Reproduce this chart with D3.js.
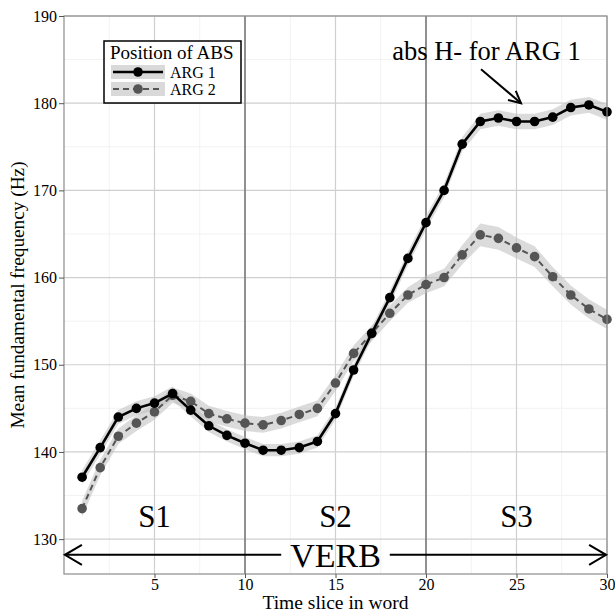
<!DOCTYPE html>
<html>
<head>
<meta charset="utf-8">
<script src="https://cdn.jsdelivr.net/npm/d3@7"></script>
<style>
  html, body { margin: 0; padding: 0; background: #fff; }
  svg { display: block; }
  text { font-family: "Liberation Serif", "DejaVu Serif", serif; fill: #000; }
</style>
</head>
<body>
<svg id="chart" width="615" height="613"></svg>
<script>
/* F0 contour per time slice – ARG 1 vs ARG 2 */

const slices = [1, 2, 3, 4, 5, 6, 7, 8, 9, 10, 11, 12, 13, 14, 15,
  16, 17, 18, 19, 20, 21, 22, 23, 24, 25, 26, 27, 28, 29, 30];

const arg1 = [137.1, 140.5, 144.0, 145.0, 145.6, 146.7, 144.8, 143.0, 141.9, 141.0,
  140.2, 140.2, 140.5, 141.2, 144.4, 149.4, 153.6, 157.7, 162.2, 166.3,
  170.0, 175.3, 177.9, 178.3, 177.9, 177.9, 178.4, 179.5, 179.8, 179.0];
const arg1Ci = [0.8, 0.8, 0.8, 0.8, 0.8, 0.8, 0.7, 0.7, 0.7, 0.7,
  0.7, 0.7, 0.7, 0.7, 0.7, 0.7, 0.7, 0.8, 0.8, 0.8,
  0.8, 0.8, 0.9, 0.9, 0.9, 0.9, 0.9, 0.9, 0.9, 0.9];

const arg2 = [133.5, 138.2, 141.8, 143.3, 144.6, 146.5, 145.8, 144.4, 143.8, 143.3,
  143.1, 143.6, 144.3, 145.0, 147.9, 151.3, 153.6, 155.9, 158.0, 159.2,
  160.0, 162.6, 164.9, 164.5, 163.4, 162.4, 160.1, 158.0, 156.4, 155.2];
const arg2Ci = [0.9, 0.9, 0.9, 0.9, 0.9, 0.9, 0.9, 0.9, 0.9, 0.9,
  0.9, 0.9, 0.9, 0.9, 0.9, 0.9, 0.9, 0.9, 0.9, 1.0,
  1.0, 1.1, 1.3, 1.3, 1.2, 1.2, 1.1, 1.1, 1.1, 1.1];

const xTicks = [5, 10, 15, 20, 25, 30];
const yTicks = [130, 140, 150, 160, 170, 180, 190];
const syllableBounds = [10, 20];
const syllables = ["S1", "S2", "S3"];
const syllableX = [5, 15, 25];

const margin = { top: 16, right: 8, bottom: 39, left: 64 };
const W = 615, H = 613;
const innerW = W - margin.left - margin.right;
const innerH = H - margin.top - margin.bottom;

const x = d3.scaleLinear().domain([0, 30]).range([0, innerW]);
const y = d3.scaleLinear().domain([126, 190]).range([innerH, 0]);

const svg = d3.select("#chart");
const g = svg.append("g").attr("transform", `translate(${margin.left},${margin.top})`);

/* ---------- grid ---------- */
const minorX = d3.range(2.5, 30, 5);
const minorY = d3.range(135, 190, 10);
g.append("g").selectAll("line").data(minorX).join("line")
  .attr("x1", d => x(d)).attr("x2", d => x(d)).attr("y1", 0).attr("y2", innerH)
  .attr("stroke", "#f2f2f2").attr("stroke-width", 1);
g.append("g").selectAll("line").data(minorY).join("line")
  .attr("y1", d => y(d)).attr("y2", d => y(d)).attr("x1", 0).attr("x2", innerW)
  .attr("stroke", "#f2f2f2").attr("stroke-width", 1);
g.append("g").selectAll("line").data(xTicks).join("line")
  .attr("x1", d => x(d)).attr("x2", d => x(d)).attr("y1", 0).attr("y2", innerH)
  .attr("stroke", "#cfcfcf").attr("stroke-width", 1.2);
g.append("g").selectAll("line").data(yTicks).join("line")
  .attr("y1", d => y(d)).attr("y2", d => y(d)).attr("x1", 0).attr("x2", innerW)
  .attr("stroke", "#cfcfcf").attr("stroke-width", 1.2);

// syllable boundaries
g.append("g").selectAll("line").data(syllableBounds).join("line")
  .attr("x1", d => x(d)).attr("x2", d => x(d)).attr("y1", 0).attr("y2", innerH)
  .attr("stroke", "#6e6e6e").attr("stroke-width", 1.4);

/* ---------- series ---------- */
const series = [
  { key: "ARG 1", vals: arg1, ci: arg1Ci, color: "#000", dash: null, width: 2.6 },
  { key: "ARG 2", vals: arg2, ci: arg2Ci, color: "#555", dash: "6,4", width: 2 },
];

const area = d3.area()
  .x((d, i) => x(slices[i]))
  .y0(d => y(d[0] - d[1]))
  .y1(d => y(d[0] + d[1]));
const line = d3.line().x((d, i) => x(slices[i])).y(d => y(d));

for (const s of series) {
  g.append("path")
    .datum(s.vals.map((v, i) => [v, s.ci[i]]))
    .attr("d", area)
    .attr("fill", "#bdbdbd").attr("fill-opacity", 0.55);
}
for (const s of series.slice().reverse()) {
  g.append("path").datum(s.vals).attr("d", line)
    .attr("fill", "none").attr("stroke", s.color)
    .attr("stroke-width", s.width).attr("stroke-dasharray", s.dash);
  g.append("g").selectAll("circle").data(s.vals).join("circle")
    .attr("cx", (d, i) => x(slices[i])).attr("cy", d => y(d))
    .attr("r", 4.8).attr("fill", s.color);
}

/* ---------- panel border + axes ---------- */
g.append("rect").attr("width", innerW).attr("height", innerH)
  .attr("fill", "none").attr("stroke", "#8c8c8c").attr("stroke-width", 1.2);

const yAxis = g.append("g").call(d3.axisLeft(y).tickValues(yTicks).tickSize(5).tickPadding(2));
const xAxis = g.append("g").attr("transform", `translate(0,${innerH})`)
  .call(d3.axisBottom(x).tickValues(xTicks).tickSize(4).tickPadding(1));
for (const ax of [xAxis, yAxis]) {
  ax.select(".domain").remove();
  ax.selectAll(".tick line").attr("stroke", "#555");
  ax.selectAll(".tick text").attr("font-family", "Liberation Serif").attr("font-size", 16).attr("fill", "#000");
}

svg.append("text")
  .attr("x", margin.left + x(15)).attr("y", 609)
  .attr("text-anchor", "middle").attr("font-size", 19.5)
  .text("Time slice in word");
svg.append("text")
  .attr("transform", `translate(24,${margin.top + innerH / 2}) rotate(-90)`)
  .attr("text-anchor", "middle").attr("font-size", 19.3)
  .text("Mean fundamental frequency (Hz)");

/* ---------- annotations ---------- */
g.append("g").selectAll("text").data(syllables).join("text")
  .attr("x", (d, i) => x(syllableX[i])).attr("y", y(131.4))
  .attr("text-anchor", "middle").attr("font-size", 31)
  .text(d => d);

function arrowHead(sel, x0, y0, x1, y1, len, half) {
  const ang = Math.atan2(y1 - y0, x1 - x0);
  const bx = x1 - len * Math.cos(ang), by = y1 - len * Math.sin(ang);
  const px = -Math.sin(ang) * half, py = Math.cos(ang) * half;
  sel.append("path")
    .attr("d", `M${bx + px},${by + py}L${x1},${y1}L${bx - px},${by - py}`)
    .attr("fill", "none").attr("stroke", "#000").attr("stroke-width", 2);
}

// VERB span
const verbY = y(128.2);
const verbSegs = [[12, 0.05], [18, 29.95]];
for (const [a, b] of verbSegs) {
  g.append("line").attr("x1", x(a)).attr("x2", x(b)).attr("y1", verbY).attr("y2", verbY)
    .attr("stroke", "#000").attr("stroke-width", 2);
  arrowHead(g, x(a), verbY, x(b), verbY, 17, 10);
}
g.append("text").attr("x", x(15)).attr("y", verbY)
  .attr("dy", "0.35em").attr("text-anchor", "middle").attr("font-size", 34)
  .text("VERB");

// abs H- note
g.append("text").attr("x", x(23.34)).attr("y", y(184.95))
  .attr("text-anchor", "middle").attr("font-size", 26.5)
  .text("abs H- for ARG 1");
g.append("line")
  .attr("x1", x(23.04)).attr("y1", y(183.9)).attr("x2", x(25.25)).attr("y2", y(180.0))
  .attr("stroke", "#000").attr("stroke-width", 2);
arrowHead(g, x(23.04), y(183.9), x(25.25), y(180.0), 12, 6);

/* ---------- legend ---------- */
const leg = svg.append("g").attr("transform", "translate(104,41)");
leg.append("rect").attr("width", 137).attr("height", 62)
  .attr("fill", "#fff").attr("stroke", "#000").attr("stroke-width", 1.5);
leg.append("text").attr("x", 6).attr("y", 18).attr("font-size", 19).text("Position of ABS");
series.forEach((s, i) => {
  const row = leg.append("g").attr("transform", `translate(7,${24 + i * 17})`);
  row.append("rect").attr("width", 54).attr("height", 14).attr("fill", "#d9d9d9");
  row.append("line").attr("x1", 2).attr("x2", 52).attr("y1", 7).attr("y2", 7)
    .attr("stroke", s.color).attr("stroke-width", s.width).attr("stroke-dasharray", s.dash);
  row.append("circle").attr("cx", 27).attr("cy", 7).attr("r", 4.8).attr("fill", s.color);
  row.append("text").attr("x", 59).attr("y", 13).attr("font-size", 16).text(s.key);
});
</script>
</body>
</html>
